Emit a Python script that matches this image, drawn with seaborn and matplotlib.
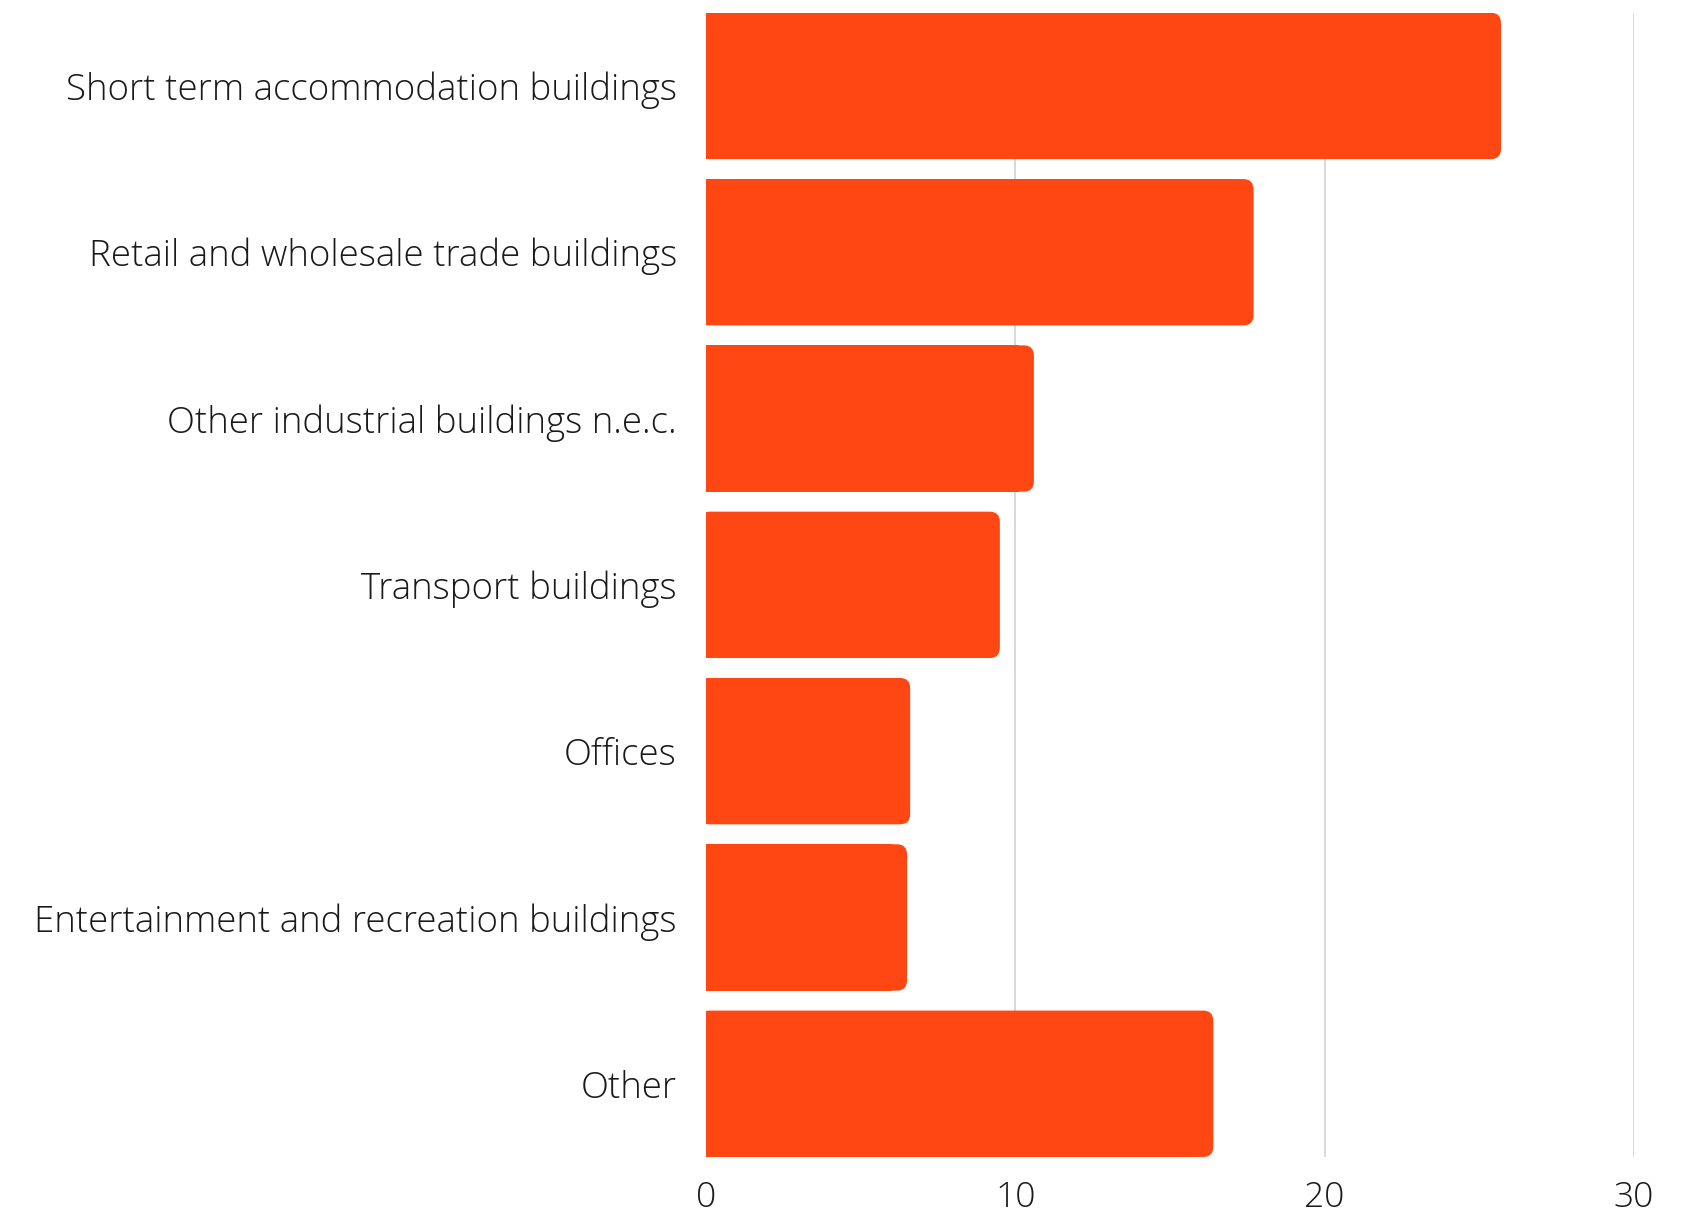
import matplotlib
matplotlib.use('Agg')
import matplotlib.pyplot as plt
from matplotlib.patches import FancyBboxPatch
import pandas as pd
import seaborn as sns

# Chart data
categories = ['Short term accommodation buildings', 'Retail and wholesale trade buildings',
              'Other industrial buildings n.e.c.', 'Transport buildings', 'Offices',
              'Entertainment and recreation buildings', 'Other']
values = [25.7, 17.7, 10.6, 9.5, 6.6, 6.5, 16.4]
x_ticks = [0, 10, 20, 30]

df = pd.DataFrame({'category': categories, 'value': values})

bar_color = '#ff4713'
bar_width = 0.88

sns.set_style('white')
plt.rcParams['font.family'] = ['Open Sans', 'DejaVu Sans']

fig = plt.figure(figsize=(16.91, 12.14), dpi=100)
ax = fig.add_axes([0.4175, 0.047, 0.5488, 0.9425])

# vertical grid behind the bars
for t in x_ticks[1:]:
    ax.axvline(t, color='#d6d6d6', lw=1.3, zorder=0)

sns.barplot(data=df, x='value', y='category', orient='h', color=bar_color,
            width=bar_width, saturation=1, ax=ax, zorder=2)

ax.set_xlim(0, 30)
ax.set_ylim(len(categories) - 1 + bar_width / 2, -bar_width / 2)

# round the right-hand corners
rx = 0.32
aspect = 0.062 / rx
for p in list(ax.patches):
    x0, y0, w, h = p.get_x(), p.get_y(), p.get_width(), p.get_height()
    p.set_width(max(w - rx * 1.5, 0))
    p.set_edgecolor('none')
    rounded = FancyBboxPatch((x0 - 0.2, y0), w + 0.2, h,
                             boxstyle=f'round,pad=0,rounding_size={rx}',
                             mutation_aspect=aspect, facecolor=bar_color,
                             edgecolor='none', zorder=2)
    ax.add_patch(rounded)

ax.set_xticks(x_ticks)
ax.set_xlabel('')
ax.set_ylabel('')
ax.tick_params(axis='y', length=0, pad=21, labelsize=26.4, labelcolor='#1a1a1a')
ax.tick_params(axis='x', length=0, pad=17, labelsize=25.5, labelcolor='#1a1a1a')
for lbl in ax.get_yticklabels() + ax.get_xticklabels():
    lbl.set_fontweight('light')
sns.despine(ax=ax, left=True, bottom=True)

fig.savefig('out.png', dpi=100)
